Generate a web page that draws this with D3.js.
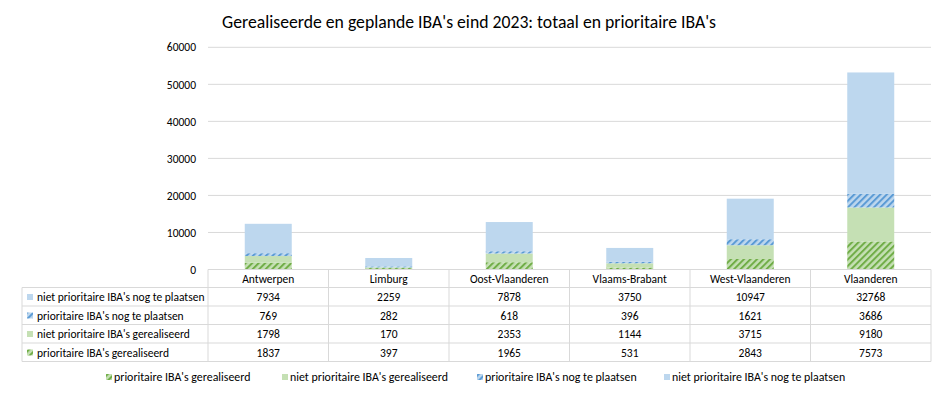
<!DOCTYPE html>
<html>
<head>
<meta charset="utf-8">
<script src="https://cdn.jsdelivr.net/npm/d3@7"></script>
<style>
  body { margin: 0; background: #fff; }
  svg text { font-family: Carlito, Lato, "Liberation Sans", sans-serif; fill: #000; }
</style>
</head>
<body>
<div id="chart"></div>
<script>
// data
const categories = ['Antwerpen', 'Limburg', 'Oost-Vlaanderen', 'Vlaams-Brabant', 'West-Vlaanderen', 'Vlaanderen'];
const seriesNames = [
    "prioritaire IBA's gerealiseerd",
    "niet prioritaire IBA's gerealiseerd",
    "prioritaire IBA's nog te plaatsen",
    "niet prioritaire IBA's nog te plaatsen"
];
const prioGerealiseerd = [1837, 397, 1965, 531, 2843, 7573];
const nietPrioGerealiseerd = [1798, 170, 2353, 1144, 3715, 9180];
const prioNogTePlaatsen = [769, 282, 618, 396, 1621, 3686];
const nietPrioNogTePlaatsen = [7934, 2259, 7878, 3750, 10947, 32768];
const yTicks = [0, 10000, 20000, 30000, 40000, 50000, 60000];
const title = "Gerealiseerde en geplande IBA's eind 2023: totaal en prioritaire IBA's";

const seriesValues = [prioGerealiseerd, nietPrioGerealiseerd, prioNogTePlaatsen, nietPrioNogTePlaatsen];
const fills = ['url(#hatchGreen)', '#c5e0b4', 'url(#hatchBlue)', '#bdd7ee'];

const width = 945, height = 398;
const plot = {left: 208, right: 931, top: 47.3, bottom: 269.5};

const svg = d3.select('#chart').append('svg')
    .attr('width', width)
    .attr('height', height);

// hatch patterns
const defs = svg.append('defs');
function hatch(id, bg, fg) {
    const p = defs.append('pattern')
        .attr('id', id)
        .attr('patternUnits', 'userSpaceOnUse')
        .attr('width', 4.6)
        .attr('height', 4.6)
        .attr('patternTransform', 'rotate(45)');
    p.append('rect').attr('width', 4.6).attr('height', 4.6).attr('fill', bg);
    p.append('line')
        .attr('x1', 1).attr('y1', 0).attr('x2', 1).attr('y2', 4.6)
        .attr('stroke', fg).attr('stroke-width', 2);
}
hatch('hatchGreen', '#c5e0b4', '#70ad47');
hatch('hatchBlue', '#bdd7ee', '#5b9bd5');

// title
svg.append('text')
    .attr('x', 469)
    .attr('y', 28)
    .attr('text-anchor', 'middle')
    .style('font-size', '17.7px')
    .text(title);

const xScale = d3.scaleBand()
    .domain(categories)
    .range([plot.left, plot.right])
    .padding(0);

const yScale = d3.scaleLinear()
    .domain([0, 60000])
    .range([plot.bottom, plot.top]);

// gridlines
svg.append('g')
    .selectAll('line')
    .data(yTicks.slice(1))
    .join('line')
    .attr('x1', plot.left)
    .attr('x2', plot.right)
    .attr('y1', d => yScale(d))
    .attr('y2', d => yScale(d))
    .attr('stroke', '#d9d9d9')
    .attr('stroke-width', 1);

// y axis labels
const yAxis = d3.axisLeft(yScale)
    .tickValues(yTicks)
    .tickFormat(d3.format('d'))
    .tickSize(0)
    .tickPadding(12);

svg.append('g')
    .attr('class', 'y-axis')
    .attr('transform', 'translate(' + plot.left + ',0)')
    .call(yAxis)
    .call(g => g.select('.domain').remove())
    .call(g => g.selectAll('text')
        .style('font-size', '11.5px')
        .style('font-family', 'Carlito, Lato, sans-serif')
        .attr('fill', '#404040'));

// stacked bars
const table = categories.map((c, i) => {
    const row = {category: c};
    seriesNames.forEach((s, j) => row[s] = seriesValues[j][i]);
    return row;
});
const stacked = d3.stack().keys(seriesNames)(table);

const bw = xScale.bandwidth() * 0.39;
svg.append('g')
    .selectAll('g')
    .data(stacked)
    .join('g')
    .attr('fill', (d, i) => fills[i])
    .selectAll('rect')
    .data(d => d)
    .join('rect')
    .attr('x', d => xScale(d.data.category) + (xScale.bandwidth() - bw) / 2)
    .attr('width', bw)
    .attr('y', d => yScale(d[1]))
    .attr('height', d => yScale(d[0]) - yScale(d[1]));

// data table
const tableLeft = 22;
const headerTop = plot.bottom;
const rowH = 18.5;
const rowsTop = headerTop + 18;
const rowOrder = [3, 2, 1, 0];
const tbl = svg.append('g').attr('class', 'data-table');
const border = '#d9d9d9';

// horizontal lines
tbl.append('line')
    .attr('x1', plot.left).attr('x2', plot.right)
    .attr('y1', headerTop).attr('y2', headerTop)
    .attr('stroke', border);
d3.range(rowOrder.length + 1).forEach(k => {
    tbl.append('line')
        .attr('x1', tableLeft).attr('x2', plot.right)
        .attr('y1', rowsTop + k * rowH).attr('y2', rowsTop + k * rowH)
        .attr('stroke', border);
});
// vertical lines
tbl.append('line')
    .attr('x1', tableLeft).attr('x2', tableLeft)
    .attr('y1', rowsTop).attr('y2', rowsTop + rowOrder.length * rowH)
    .attr('stroke', border);
categories.concat(['end']).forEach((c, i) => {
    const x = plot.left + i * xScale.bandwidth();
    tbl.append('line')
        .attr('x1', x).attr('x2', x)
        .attr('y1', headerTop).attr('y2', rowsTop + rowOrder.length * rowH)
        .attr('stroke', border);
});

// header labels
tbl.selectAll('.hdr')
    .data(categories)
    .join('text')
    .attr('class', 'hdr')
    .attr('x', d => xScale(d) + xScale.bandwidth() / 2)
    .attr('y', headerTop + 13)
    .attr('text-anchor', 'middle')
    .style('font-size', '11.5px')
    .text(d => d);

rowOrder.forEach((si, k) => {
    const y = rowsTop + k * rowH;
    tbl.append('rect')
        .attr('x', 27).attr('y', y + 6.5)
        .attr('width', 6).attr('height', 6)
        .attr('fill', fills[si]);
    tbl.append('text')
        .attr('x', 37)
        .attr('y', y + 13.5)
        .style('font-size', '11.5px')
        .text(seriesNames[si]);
    tbl.selectAll('.v' + si)
        .data(seriesValues[si])
        .join('text')
        .attr('x', (d, i) => xScale(categories[i]) + xScale.bandwidth() / 2)
        .attr('y', y + 13.5)
        .attr('text-anchor', 'middle')
        .style('font-size', '11.5px')
        .text(d => d);
});

// legend
const legendX = [106, 282, 477, 664];
const legend = svg.append('g')
    .selectAll('g')
    .data(seriesNames)
    .join('g')
    .attr('transform', (d, i) => 'translate(' + legendX[i] + ',381)');
legend.append('rect')
    .attr('x', 0).attr('y', -7)
    .attr('width', 6).attr('height', 6)
    .attr('fill', (d, i) => fills[i]);
legend.append('text')
    .attr('x', 8)
    .attr('y', 0)
    .style('font-size', '11.9px')
    .text(d => d);
</script>
</body>
</html>
